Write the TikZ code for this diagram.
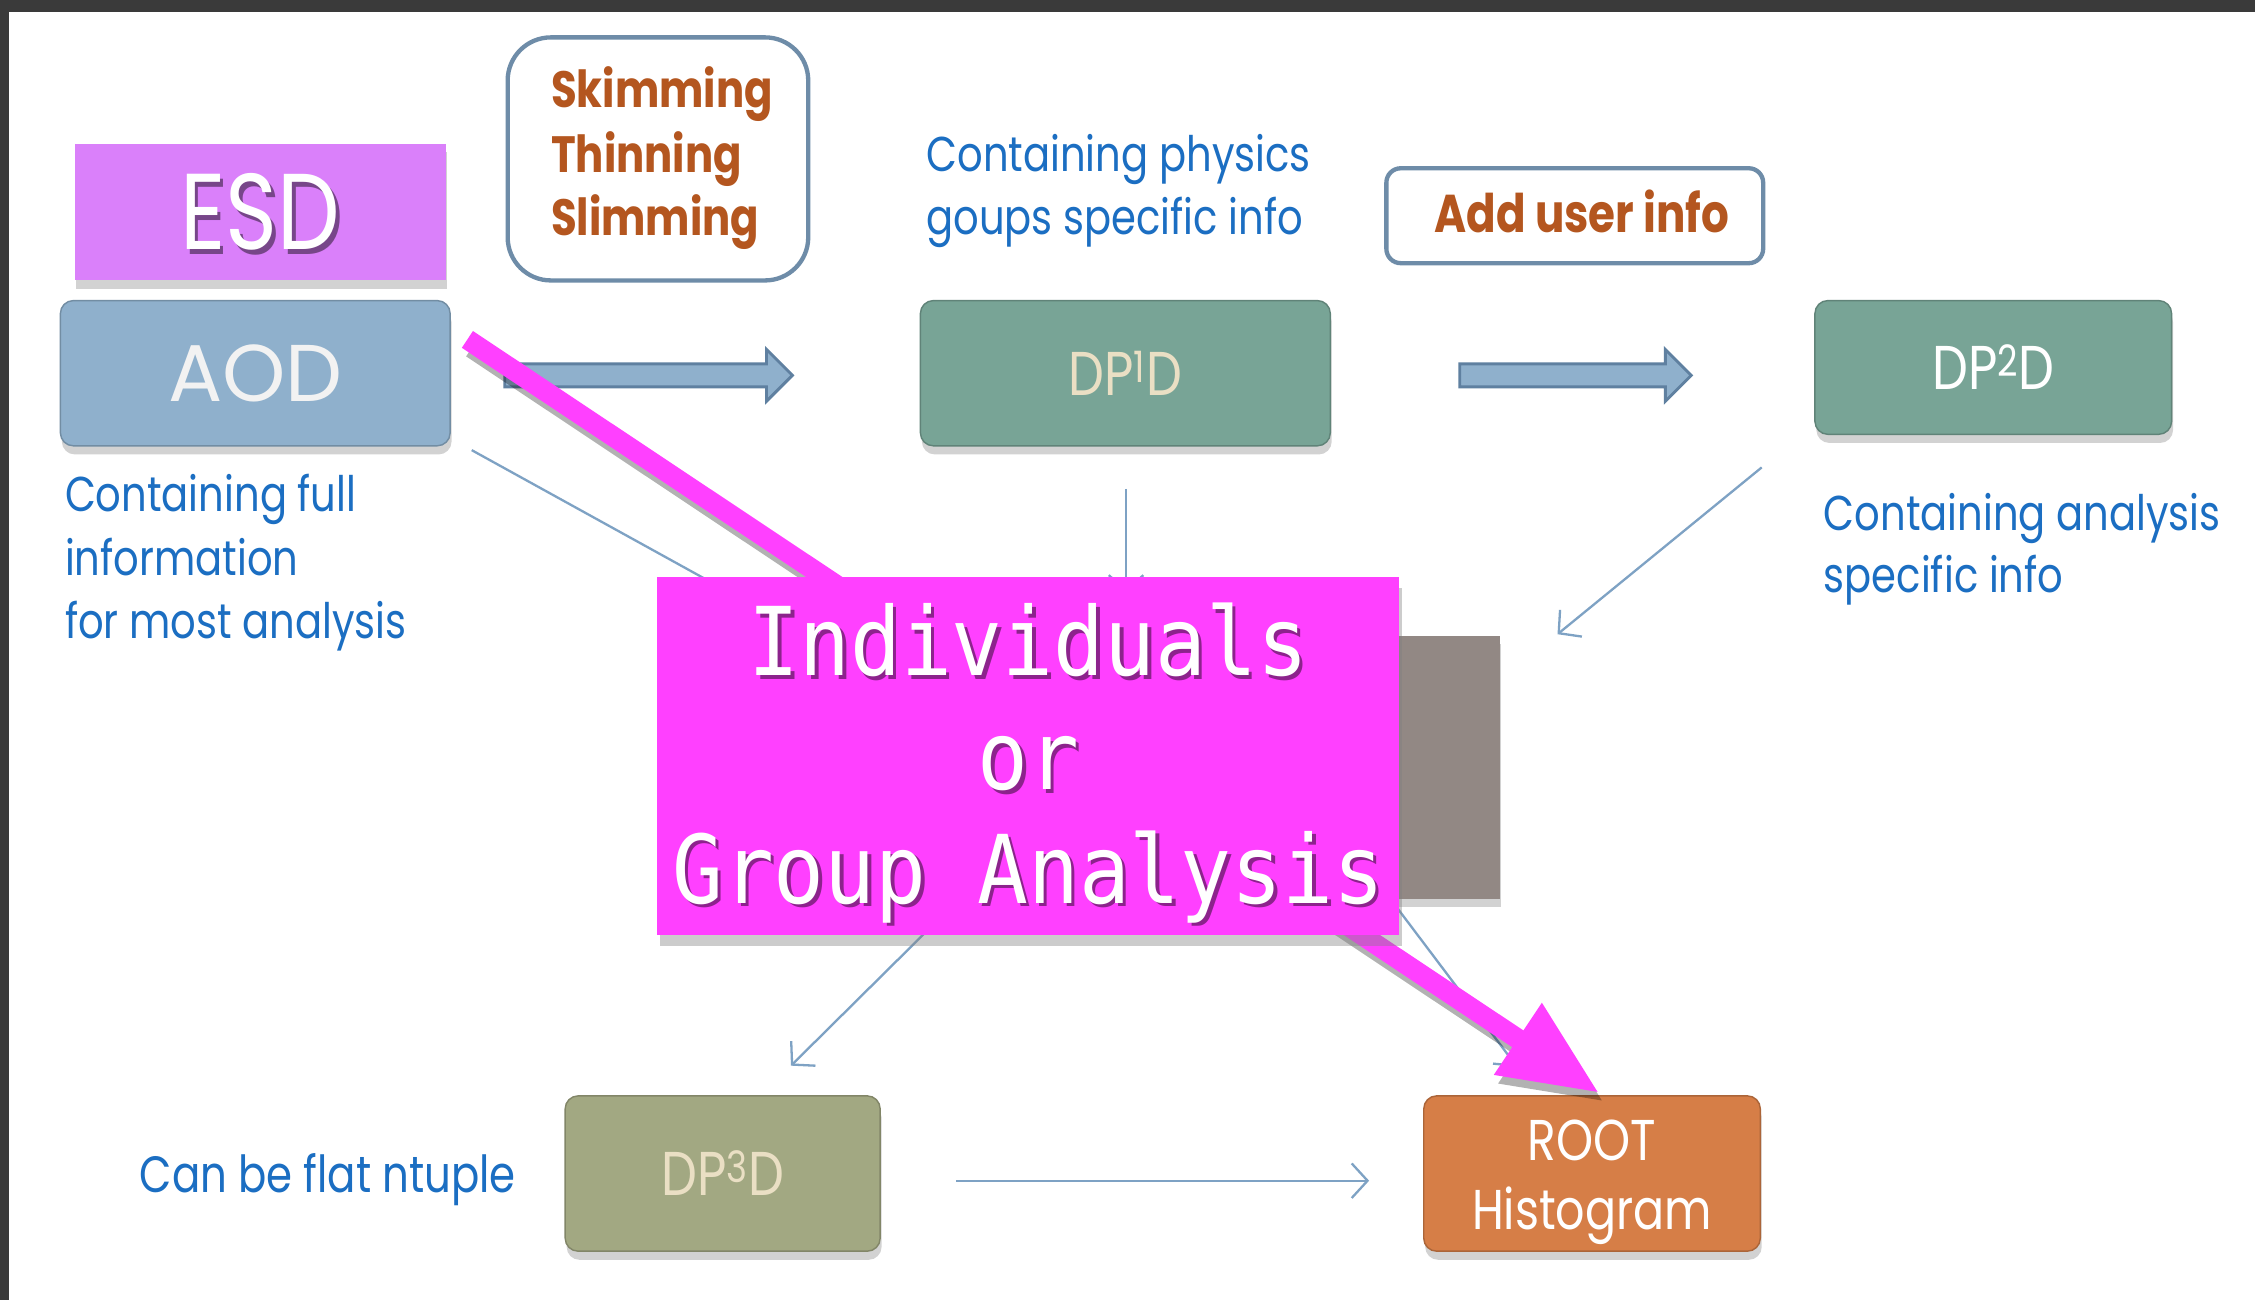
\documentclass[tikz,border=0pt]{standalone}
\usepackage{fontspec}
\usetikzlibrary{arrows.meta,shadows,calc}
\newfontfamily\tw[FakeStretch=0.82]{Poppins}
\newfontfamily\twwide{Poppins}
\newfontfamily\monof[FakeStretch=0.89]{DejaVu Sans Mono}
\definecolor{bgdark}{HTML}{3A3A3A}
\definecolor{esdc}{HTML}{DA80FA}
\definecolor{aodc}{HTML}{8FB0CC}
\definecolor{dpc}{HTML}{78A496}
\definecolor{dpthree}{HTML}{A2A882}
\definecolor{rootc}{HTML}{D67E47}
\definecolor{midc}{HTML}{928884}
\definecolor{magc}{HTML}{FF40FF}
\definecolor{bluet}{HTML}{1B6EC2}
\definecolor{brownt}{HTML}{B4561F}
\definecolor{bordc}{HTML}{6E8CA8}
\definecolor{beige}{HTML}{EADFC4}
\definecolor{linec}{HTML}{7EA2C4}
\definecolor{arrc}{HTML}{5F80A0}
\begin{document}
\begin{tikzpicture}[x=1pt,y=-1pt,
  shad/.style={drop shadow={shadow xshift=1pt, shadow yshift=-6pt, opacity=0.35}},
  pbox/.style={rectangle, rounded corners=9pt, inner sep=0pt, shad},
  framebox/.style={rectangle, draw=bordc, line width=3pt, fill=white, inner sep=0pt},
  bluetext/.style={anchor=base west, inner sep=0pt, text=bluet, font=\tw\fontsize{34}{40}\selectfont},
  browntext/.style={anchor=base west, inner sep=0pt, text=brownt, font=\tw\bfseries\fontsize{35.5}{44}\selectfont},
  thin/.style={draw=linec, line width=1.6pt},
  thinarrow/.style={thin, -{Straight Barb[length=11pt,width=24pt,line width=1.6pt]}},
  blockarrow/.style={fill=aodc, draw=arrc, line width=2pt, line join=miter},
  magtext/.style={anchor=base, inner sep=0pt, font=\monof\fontsize{66}{79}\selectfont}
]
\useasboundingbox (0,0) rectangle (1568,904);
\fill[bgdark] (0,0) rectangle (1568,904);
\fill[white] (6,8) rectangle (1568,904);

% connector coordinates
\coordinate (c1s) at (328,313);
\coordinate (c1e) at (560,441);
\coordinate (c2s) at (783,340);
\coordinate (c2e) at (783,412);
\coordinate (c3s) at (1225,325);
\coordinate (c3e) at (1083,441);
\coordinate (c4s) at (660,632);
\coordinate (c4e) at (550,741);
\coordinate (c5s) at (966,624);
\coordinate (c5e) at (1055,742);
\coordinate (c6s) at (665,821);
\coordinate (c6e) at (952,821);

\draw[thin] (c1s) -- (c1e);
\draw[thinarrow] (c2s) -- (c2e);
\draw[thinarrow] (c3s) -- (c3e);
\draw[thinarrow] (c4s) -- (c4e);
\draw[thinarrow] (c5s) -- (c5e);
\draw[thinarrow] (c6s) -- (c6e);

% hidden middle box
\node[rectangle, fill=midc, minimum width=483pt, minimum height=183pt, inner sep=0pt, shad] (mid) at (801.5,533.5) {};

% ESD
\node[rectangle, fill=esdc, minimum width=258pt, minimum height=95pt, inner sep=0pt, shad] (esd) at (181,147.5) {};
\node[text=black, opacity=0.45, inner sep=0pt, font=\tw\fontsize{75}{80}\selectfont] at ($(esd)+(2.5,3)$) {ESD};
\node[text=white, inner sep=0pt, font=\tw\fontsize{75}{80}\selectfont] (esdt) at (esd) {ESD};

% AOD
\node[pbox, fill=aodc, draw=aodc!80!black, line width=1pt, minimum width=271pt, minimum height=101pt] (aod) at (177.5,259.5) {};
\node[text=white!95!black, inner sep=0pt, font=\twwide\fontsize{56}{60}\selectfont] (aodt) at (aod) {AOD};

% Skimming frame
\node[framebox, rounded corners=30pt, minimum width=209pt, minimum height=169pt] (skim) at (457.5,110.5) {};
\node[browntext] (sk1) at (383,75) {Skimming};
\node[browntext] (sk2) at (383,120) {Thinning};
\node[browntext] (sk3) at (383,164) {Slimming};

% Add user info
\node[framebox, rounded corners=10pt, minimum width=262pt, minimum height=66pt] (user) at (1095,150) {};
\node[anchor=base, inner sep=0pt, text=brownt, font=\tw\bfseries\fontsize{37}{44}\selectfont] (usert) at (1100,162) {Add user info};

% blue texts
\node[bluetext] (ph1) at (644,119) {Containing physics};
\node[bluetext] (ph2) at (644,163) {goups specific info};
\node[bluetext] (fu1) at (45,356) {Containing full};
\node[bluetext] (fu2) at (45,400) {information};
\node[bluetext] (fu3) at (45,444) {for most analysis};
\node[bluetext] (an1) at (1268,369) {Containing analysis};
\node[bluetext] (an2) at (1268,412) {specific info};
\node[bluetext, font=\tw\fontsize{35.5}{40}\selectfont] (flat) at (97,829) {Can be flat ntuple};

% DP boxes
\node[pbox, fill=dpc, draw=dpc!80!black, line width=1pt, minimum width=285pt, minimum height=101pt] (dp1) at (782.5,259.5) {};
\node[text=beige, inner sep=0pt, font=\tw\fontsize{43}{48}\selectfont] at (dp1) {DP\textsuperscript{1}D};
\node[pbox, fill=dpc, draw=dpc!80!black, line width=1pt, minimum width=248pt, minimum height=93pt] (dp2) at (1386,255.5) {};
\node[text=white, inner sep=0pt, font=\tw\fontsize{43}{48}\selectfont] at (dp2) {DP\textsuperscript{2}D};
\node[pbox, fill=dpthree, draw=dpthree!80!black, line width=1pt, minimum width=219pt, minimum height=108pt] (dp3) at (502.5,816) {};
\node[text=beige, inner sep=0pt, font=\tw\fontsize{43}{48}\selectfont] at (dp3) {DP\textsuperscript{3}D};

% ROOT
\node[pbox, fill=rootc, draw=rootc!80!black, line width=1pt, minimum width=234pt, minimum height=108pt] (root) at (1107,816) {};
\node[anchor=base, inner sep=0pt, text=white, font=\tw\fontsize{40}{46}\selectfont] (roott1) at (1107,807) {ROOT};
\node[anchor=base, inner sep=0pt, text=white, font=\tw\fontsize{39}{46}\selectfont] (roott2) at (1107,855) {Histogram};

% block arrows
\draw[blockarrow] (351,253) -- (533,253) -- (533,243) -- (551,261) -- (533,279) -- (533,269) -- (351,269) -- cycle;
\draw[blockarrow] (1015,253) -- (1158,253) -- (1158,243) -- (1176,261) -- (1158,279) -- (1158,269) -- (1015,269) -- cycle;

% magenta arrow
\coordinate (ms) at (325,236);
\coordinate (mt) at (1112,760);
\draw[black, opacity=0.3, line width=14pt, -{Triangle[length=68pt,width=56pt]}] ($(ms)+(3,6)$) -- ($(mt)+(3,6)$);
\draw[magc, line width=14pt, -{Triangle[length=68pt,width=56pt]}] (ms) -- (mt);

% magenta box
\node[rectangle, fill=magc, minimum width=516pt, minimum height=249pt, inner sep=0pt, drop shadow={shadow xshift=2pt, shadow yshift=-8pt, opacity=0.4}] (mag) at (715,525.5) {};
\foreach \t/\yy [count=\i] in {Individuals/470, or/549, Group Analysis/628}{
  \node[magtext, text=black, opacity=0.45] at (717.5,\yy+2.5) {\t};
  \node[magtext, text=white] (mt\i) at (715,\yy) {\t};
}
\end{tikzpicture}
\end{document}
